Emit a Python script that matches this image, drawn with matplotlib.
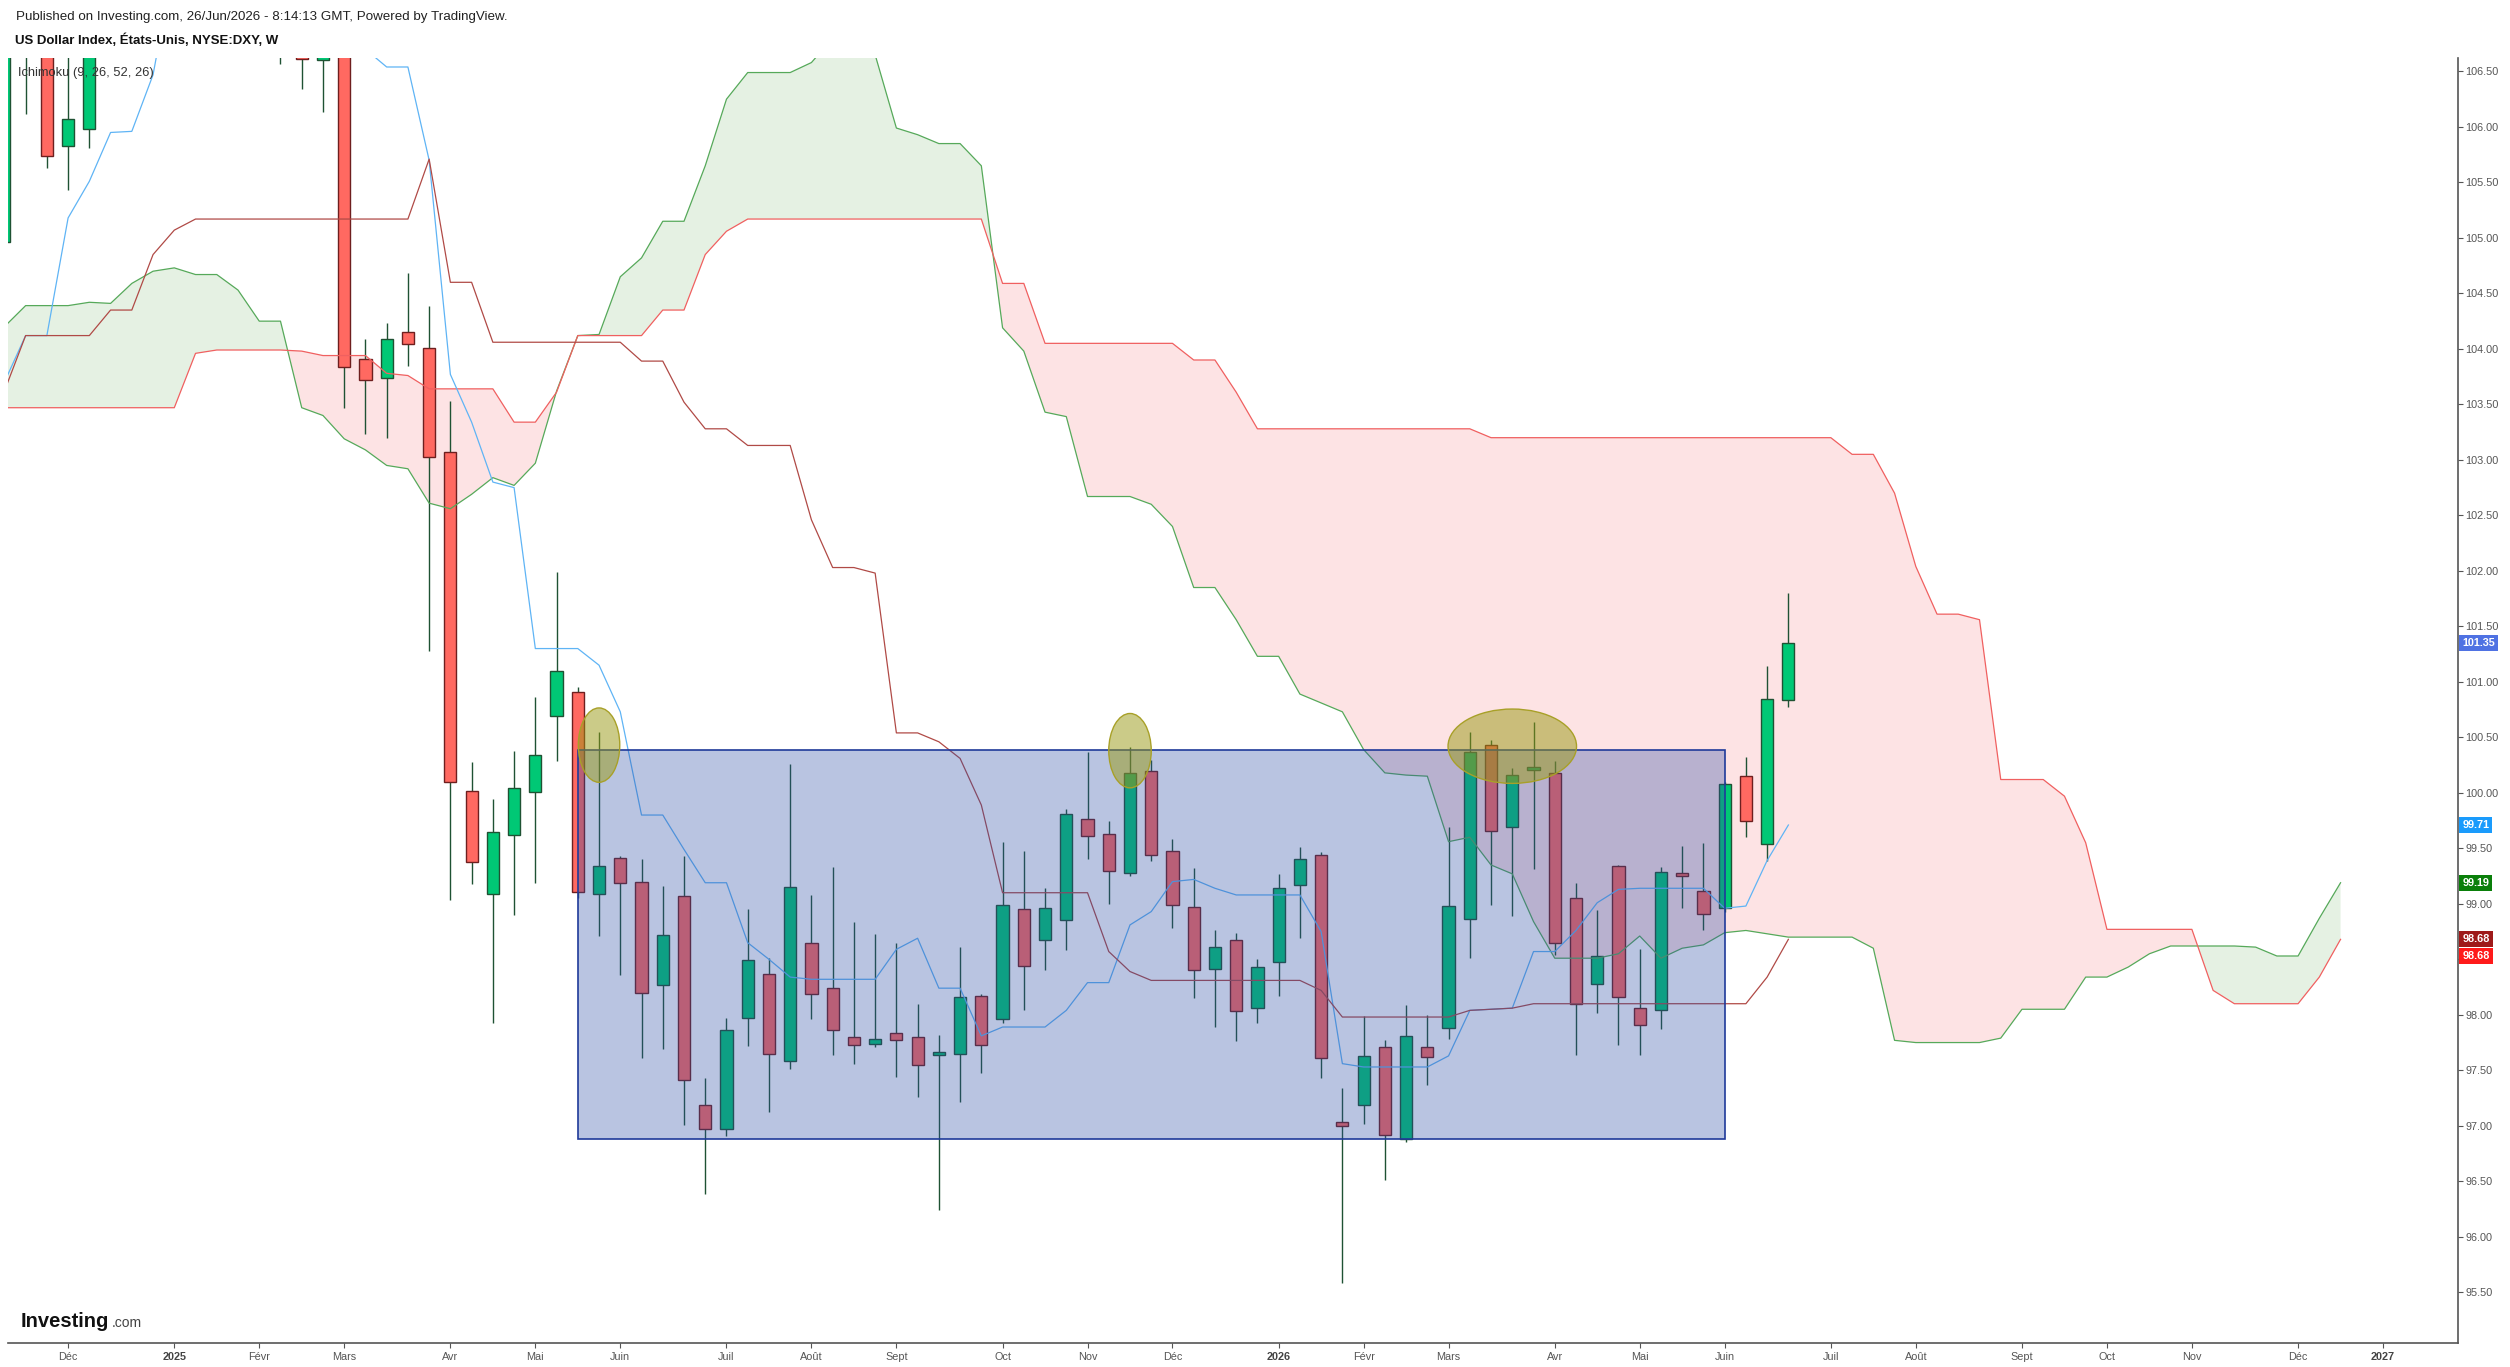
import pandas as pd
import numpy as np
import matplotlib.pyplot as plt
from matplotlib.patches import Rectangle, Ellipse

plt.rcParams['font.family'] = ['Liberation Sans', 'DejaVu Sans']

# weekly bars, first bar = week of 11 Nov 2024 (bar index -8)
first_bar = '2024-11-11'
first_idx = -8

opens = [104.96, 106.70, 107.50, 105.83, 105.98, 106.95, 107.80, 108.00, 108.90, 109.70,
         109.30, 107.40, 108.40, 108.05, 106.75, 106.60, 107.55, 103.91, 103.74, 104.15,
         104.01, 103.07, 100.02, 99.09, 99.62, 100.01, 100.69, 100.91, 99.09, 99.41,
         99.20, 98.27, 99.07, 97.19, 96.97, 97.97, 98.37, 97.58, 98.65, 98.24,
         97.80, 97.74, 97.84, 97.80, 97.64, 97.65, 98.17, 97.96, 98.95, 98.67,
         98.85, 99.76, 99.63, 99.28, 100.20, 99.48, 98.97, 98.41, 98.67, 98.06,
         98.48, 99.17, 99.44, 97.03, 97.19, 97.71, 96.88, 97.71, 97.88, 98.86,
         100.43, 99.69, 100.21, 100.18, 99.05, 98.28, 99.34, 98.06, 98.04, 99.28,
         99.12, 98.96, 100.15, 99.54, 100.84]
highs = [107.07, 108.07, 107.60, 106.75, 107.18, 108.54, 108.25, 109.54, 110.01, 110.17,
         109.40, 108.50, 109.88, 108.50, 107.10, 107.75, 107.60, 104.09, 104.23, 104.68,
         104.39, 103.53, 100.28, 99.94, 100.38, 100.86, 101.99, 100.95, 100.55, 99.43,
         99.40, 99.16, 99.43, 97.43, 97.97, 98.95, 98.51, 100.26, 99.08, 99.33,
         98.84, 98.73, 98.65, 98.10, 97.82, 98.61, 98.19, 99.56, 99.48, 99.14,
         99.85, 100.37, 99.75, 100.41, 100.30, 99.58, 99.32, 98.76, 98.74, 98.50,
         99.27, 99.51, 99.47, 97.34, 97.99, 97.77, 98.09, 98.00, 99.69, 100.55,
         100.48, 100.22, 100.64, 100.29, 99.19, 98.94, 99.35, 98.59, 99.33, 99.52,
         99.55, 100.10, 100.32, 101.14, 101.80]
lows = [104.90, 106.12, 105.63, 105.43, 105.81, 106.75, 107.60, 107.90, 108.50, 108.70,
        107.30, 107.00, 107.75, 106.57, 106.34, 106.13, 103.47, 103.23, 103.20, 103.85,
        101.28, 99.03, 99.18, 97.93, 98.90, 99.19, 100.29, 99.05, 98.71, 98.36,
        97.61, 97.69, 97.01, 96.39, 96.91, 97.72, 97.12, 97.51, 97.96, 97.64,
        97.56, 97.71, 97.44, 97.26, 96.24, 97.21, 97.48, 97.93, 98.04, 98.40,
        98.58, 99.40, 99.00, 99.25, 99.39, 98.78, 98.15, 97.89, 97.76, 97.93,
        98.17, 98.69, 97.43, 95.58, 97.02, 96.51, 96.85, 97.37, 97.78, 98.51,
        98.99, 98.89, 99.31, 98.54, 97.64, 98.02, 97.73, 97.64, 97.87, 98.96,
        98.76, 98.93, 99.60, 99.39, 100.77]
closes = [106.68, 107.55, 105.74, 106.07, 106.99, 107.82, 108.00, 108.95, 109.65, 109.35,
          107.45, 108.37, 108.05, 106.75, 106.61, 107.55, 103.84, 103.72, 104.09, 104.04,
          103.03, 100.10, 99.38, 99.65, 100.04, 100.34, 101.10, 99.11, 99.34, 99.19,
          98.20, 98.72, 97.41, 96.97, 97.86, 98.49, 97.65, 99.15, 98.19, 97.86,
          97.73, 97.78, 97.77, 97.55, 97.66, 98.16, 97.73, 98.99, 98.44, 98.96,
          99.81, 99.61, 99.30, 100.18, 99.44, 98.99, 98.40, 98.61, 98.03, 98.43,
          99.14, 99.40, 97.61, 97.00, 97.63, 96.92, 97.81, 97.62, 98.98, 100.37,
          99.66, 100.16, 100.23, 98.65, 98.10, 98.53, 98.16, 97.91, 99.29, 99.25,
          98.91, 100.08, 99.75, 100.85, 101.35]

# Ichimoku (9, 26, 52, 26)
conv_line = [103.70, 104.12, 104.12, 105.18, 105.51, 105.95, 105.96, 106.47, 107.50, 108.20,
             108.60, 108.60, 108.60, 108.45, 108.10, 107.90, 107.60, 106.70, 106.54, 106.54,
             105.70, 103.77, 103.34, 102.80, 102.75, 101.30, 101.30, 101.30, 101.15, 100.73,
             99.80, 99.80, 99.49, 99.19, 99.19, 98.65, 98.50, 98.34, 98.32, 98.32,
             98.32, 98.32, 98.59, 98.69, 98.24, 98.24, 97.81, 97.89, 97.89, 97.89,
             98.04, 98.29, 98.29, 98.81, 98.93, 99.20, 99.22, 99.14, 99.08, 99.08,
             99.08, 99.08, 98.75, 97.56, 97.53, 97.53, 97.53, 97.53, 97.63, 98.04,
             98.05, 98.06, 98.57, 98.57, 98.76, 99.01, 99.13, 99.14, 99.14, 99.14,
             99.14, 98.96, 98.98, 99.39, 99.71]
base_line = [103.62, 104.12, 104.12, 104.12, 104.12, 104.35, 104.35, 104.85, 105.07, 105.17,
             105.17, 105.17, 105.17, 105.17, 105.17, 105.17, 105.17, 105.17, 105.17, 105.17,
             105.71, 104.60, 104.60, 104.06, 104.06, 104.06, 104.06, 104.06, 104.06, 104.06,
             103.89, 103.89, 103.52, 103.28, 103.28, 103.13, 103.13, 103.13, 102.46, 102.03,
             102.03, 101.98, 100.54, 100.54, 100.46, 100.31, 99.89, 99.10, 99.10, 99.10,
             99.10, 99.10, 98.57, 98.39, 98.31, 98.31, 98.31, 98.31, 98.31, 98.31,
             98.31, 98.31, 98.22, 97.98, 97.98, 97.98, 97.98, 97.98, 97.98, 98.04,
             98.05, 98.06, 98.10, 98.10, 98.10, 98.10, 98.10, 98.10, 98.10, 98.10,
             98.10, 98.10, 98.10, 98.34, 98.68]
span_a = [104.20, 104.39, 104.39, 104.39, 104.42, 104.41, 104.59, 104.70, 104.73, 104.67,
          104.67, 104.53, 104.25, 104.25, 103.47, 103.40, 103.19, 103.09, 102.95, 102.92,
          102.61, 102.56, 102.69, 102.84, 102.77, 102.97, 103.62, 104.12, 104.13, 104.65,
          104.82, 105.15, 105.15, 105.65, 106.25, 106.49, 106.49, 106.49, 106.58, 106.80,
          106.80, 106.65, 105.99, 105.93, 105.85, 105.85, 105.65, 104.19, 103.98, 103.43,
          103.39, 102.67, 102.67, 102.67, 102.60, 102.40, 101.85, 101.85, 101.56, 101.23,
          101.23, 100.89, 100.81, 100.73, 100.39, 100.18, 100.16, 100.15, 99.56, 99.60,
          99.35, 99.27, 98.84, 98.51, 98.51, 98.51, 98.55, 98.71, 98.51, 98.60,
          98.63, 98.74, 98.76, 98.73, 98.70, 98.70, 98.70, 98.70, 98.60, 97.77,
          97.75, 97.75, 97.75, 97.75, 97.79, 98.05, 98.05, 98.05, 98.34, 98.34,
          98.43, 98.55, 98.62, 98.62, 98.62, 98.62, 98.61, 98.53, 98.53, 98.87,
          99.19]
span_b = [103.47, 103.47, 103.47, 103.47, 103.47, 103.47, 103.47, 103.47, 103.47, 103.96,
          103.99, 103.99, 103.99, 103.99, 103.98, 103.94, 103.94, 103.94, 103.78, 103.76,
          103.64, 103.64, 103.64, 103.64, 103.34, 103.34, 103.61, 104.12, 104.12, 104.12,
          104.12, 104.35, 104.35, 104.85, 105.06, 105.17, 105.17, 105.17, 105.17, 105.17,
          105.17, 105.17, 105.17, 105.17, 105.17, 105.17, 105.17, 104.59, 104.59, 104.05,
          104.05, 104.05, 104.05, 104.05, 104.05, 104.05, 103.90, 103.90, 103.61, 103.28,
          103.28, 103.28, 103.28, 103.28, 103.28, 103.28, 103.28, 103.28, 103.28, 103.28,
          103.20, 103.20, 103.20, 103.20, 103.20, 103.20, 103.20, 103.20, 103.20, 103.20,
          103.20, 103.20, 103.20, 103.20, 103.20, 103.20, 103.20, 103.05, 103.05, 102.70,
          102.04, 101.61, 101.61, 101.56, 100.12, 100.12, 100.12, 99.97, 99.55, 98.77,
          98.77, 98.77, 98.77, 98.77, 98.22, 98.10, 98.10, 98.10, 98.10, 98.34,
          98.68]

# drawings on the chart
box_bars = [19, 73]
box_prices = [96.88, 100.385]
ellipse_bars = [20, 45, 63]
ellipse_prices = [100.43, 100.38, 100.42]
ellipse_widths = [1.95, 2.0, 6.05]
ellipse_height = 0.67

month_fr = {2: 'Févr', 3: 'Mars', 4: 'Avr', 5: 'Mai', 6: 'Juin', 7: 'Juil', 8: 'Août',
            9: 'Sept', 10: 'Oct', 11: 'Nov', 12: 'Déc'}

W, H = 2510, 1367
x_lo, x_hi = -7.83, 107.53
fig = plt.figure(figsize=(W / 100, H / 100), dpi=100)
ax = fig.add_axes([8 / W, (H - 1343) / H, (2458 - 8) / W, (1343 - 58) / H])

x = np.arange(len(opens)) + first_idx
xs = np.arange(len(span_a)) + first_idx
o = np.array(opens)
c = np.array(closes)
a = np.array(span_a)
b = np.array(span_b)

# cloud
ax.fill_between(xs, a, b, where=a >= b, interpolate=True, color='#e5f1e3', lw=0, zorder=1)
ax.fill_between(xs, a, b, where=a < b, interpolate=True, color='#fde3e4', lw=0, zorder=1)
ax.plot(xs, a, color='#56a95a', lw=0.9, zorder=3)
ax.plot(xs, b, color='#f06060', lw=0.9, zorder=3)

# candles
up = c >= o
body_lo = np.minimum(o, c)
body_h = np.maximum(np.abs(c - o), 0.025)
ax.vlines(x, lows, highs, color='#1f5233', lw=1.0, zorder=2)
ax.bar(x[up], body_h[up], bottom=body_lo[up], width=0.575, color='#00c875',
       edgecolor='#1f5233', linewidth=1.0, zorder=2.1)
ax.bar(x[~up], body_h[~up], bottom=body_lo[~up], width=0.575, color='#ff6961',
       edgecolor='#6e1f1f', linewidth=1.0, zorder=2.1)

# conversion / base lines
ax.plot(x, conv_line, color='#5fb4f5', lw=0.9, zorder=3)
ax.plot(x, base_line, color='#b04a46', lw=0.9, zorder=3)

# rectangle and ellipses
ax.add_patch(Rectangle((box_bars[0], box_prices[0]), box_bars[1] - box_bars[0],
                       box_prices[1] - box_prices[0], facecolor=(0.176, 0.302, 0.647, 0.33),
                       edgecolor='#1f3a9a', lw=1.2, zorder=5))
for xb, yp, wb in zip(ellipse_bars, ellipse_prices, ellipse_widths):
    ax.add_patch(Ellipse((xb, yp), wb, ellipse_height, facecolor=(0.6, 0.6, 0.07, 0.5),
                         edgecolor='#a8a028', lw=1.0, zorder=6))

ax.set_xlim(x_lo, x_hi)
ax.set_ylim(95.043, 106.621)

# axes style
for s in ['left', 'top']:
    ax.spines[s].set_visible(False)
for s in ['right', 'bottom']:
    ax.spines[s].set_color('#555555')
    ax.spines[s].set_linewidth(1.2)
ax.yaxis.tick_right()
yt = np.arange(95.5, 106.51, 0.5)
ax.set_yticks(yt)
ax.set_yticklabels(['%.2f' % v for v in yt])
ax.tick_params(axis='y', length=3.5, width=0.8, color='#555555', labelcolor='#555555',
               labelsize=7.8, pad=2)

bar_dates = pd.date_range(first_bar, periods=120, freq='W-MON')
tick_pos, tick_lab, tick_bold = [], [], []
for k in range(1, len(bar_dates)):
    d, p = bar_dates[k], bar_dates[k - 1]
    pos = k + first_idx
    if d.month != p.month and x_lo < pos < x_hi:
        tick_pos.append(pos)
        if d.month == 1:
            tick_lab.append(str(d.year))
            tick_bold.append(True)
        else:
            tick_lab.append(month_fr[d.month])
            tick_bold.append(False)
ax.set_xticks(tick_pos)
ax.set_xticklabels(tick_lab)
ax.tick_params(axis='x', length=3.5, width=0.8, color='#555555', labelcolor='#555555',
               labelsize=7.8, pad=3)
for lab, bold in zip(ax.get_xticklabels(), tick_bold):
    if bold:
        lab.set_fontweight('bold')
        lab.set_color('#444444')

# last value labels on price scale
last_labels = [
    (closes[-1], closes[-1], '#4f72e3'),
    (conv_line[-1], conv_line[-1], '#1a9bfc'),
    (span_a[-1], span_a[-1], '#0a7f0a'),
    (base_line[-1], base_line[-1], '#9e1a1a'),
    (span_b[-1], span_b[-1] - 0.15, '#ff1a1a'),
]
for val, ypos, col in last_labels:
    ax.annotate('%.2f' % val, xy=(1.0, ypos), xycoords=('axes fraction', 'data'),
                xytext=(3.2, 0), textcoords='offset points', ha='left', va='center',
                fontsize=7.8, fontweight='bold', color='white', annotation_clip=False,
                bbox=dict(boxstyle='square,pad=0.28', fc=col, ec='none'), zorder=10)

# header texts
fig.text(16 / W, 1 - 17 / H, 'Published on Investing.com, 26/Jun/2026 - 8:14:13 GMT, Powered by TradingView.',
         fontsize=9.6, color='#222222', va='center', ha='left')
fig.text(15 / W, 1 - 40 / H, 'US Dollar Index, États-Unis, NYSE:DXY, W',
         fontsize=9.5, fontweight='bold', color='#111111', va='center', ha='left')
fig.text(18 / W, 1 - 73 / H, 'Ichimoku (9, 26, 52, 26)',
         fontsize=9.3, color='#333333', va='center', ha='left', zorder=20)

# logo
fig.text(21 / W, 1 - 1327 / H, 'Investing', fontsize=14.5, fontweight='heavy',
         color='#111111', va='baseline', ha='left')
fig.text(112 / W, 1 - 1327 / H, '.com', fontsize=10, color='#444444', va='baseline', ha='left')

fig.savefig('out.png', dpi=100, facecolor='white')
